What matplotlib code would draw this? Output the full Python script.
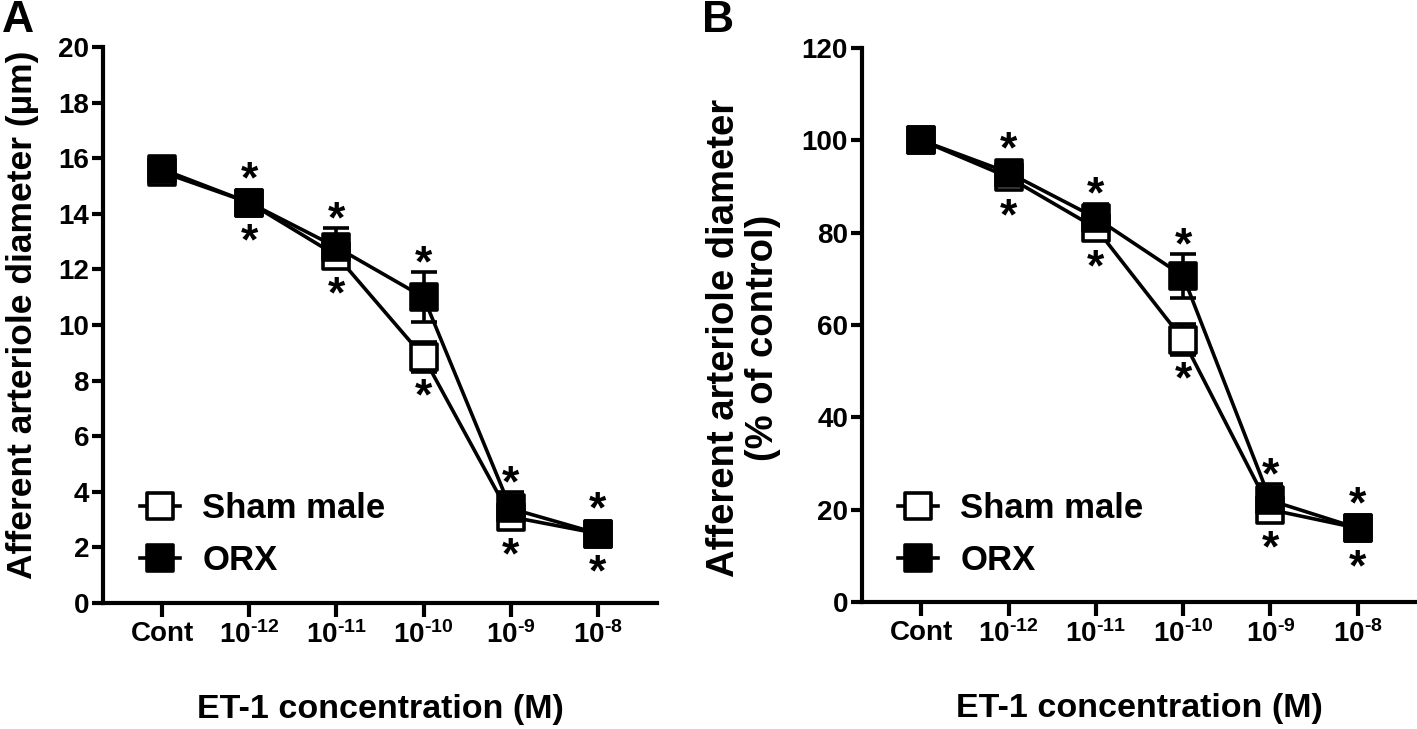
"""ET-1 dose response of afferent arteriole diameter, sham vs ORX."""

import matplotlib
matplotlib.use('Agg')
import matplotlib.pyplot as plt
from matplotlib.markers import MarkerStyle
import numpy as np

plt.rcParams['font.family'] = 'Liberation Sans'
plt.rcParams['font.weight'] = 'bold'
plt.rcParams['mathtext.fontset'] = 'custom'
plt.rcParams['mathtext.rm'] = 'Liberation Sans:bold'
plt.rcParams['mathtext.bf'] = 'Liberation Sans:bold'

# Data
tick_labels = ['Cont', r'$\mathbf{10^{‐12}}$', r'$\mathbf{10^{‐11}}$',
               r'$\mathbf{10^{‐10}}$', r'$\mathbf{10^{‐9}}$', r'$\mathbf{10^{‐8}}$']
series_names = ['Sham male', 'ORX']

sham_um = [15.5, 14.4, 12.5, 8.85, 3.1, 2.5]
sham_um_err = [0.2, 0.3, 0.3, 0.55, 0.3, 0.2]
orx_um = [15.6, 14.4, 12.8, 11.0, 3.4, 2.5]
orx_um_err = [0.2, 0.3, 0.7, 0.9, 0.6, 0.2]

sham_pct = [100, 92, 81, 56.8, 20, 16]
sham_pct_err = [0.5, 1.0, 1.6, 3.4, 1.5, 1.0]
orx_pct = [100, 93, 83.2, 70.6, 22, 16]
orx_pct_err = [0.5, 1.2, 3.1, 4.8, 3.5, 1.0]

# stars only on the ET-1 doses, not control
star_mask = [False, True, True, True, True, True]

fig = plt.figure(figsize=(14.17, 7.29), dpi=100)
ax_a = fig.add_axes([103 / 1417, 1 - 603 / 729, 554 / 1417, 556 / 729])
ax_b = fig.add_axes([862 / 1417, 1 - 602 / 729, 555 / 1417, 554 / 729])

LW = 2.6
MS = 19
SQ = MarkerStyle('s', joinstyle='round')
STAR_FS = 32
STAR_MID = 0.44  # glyph centre above baseline, in em


def draw_panel(ax, sham, sham_err, orx, orx_err, ylim, yticks):
    x = np.arange(len(tick_labels))
    ax.set_xlim(-0.68, 5.68)
    ax.set_ylim(*ylim)

    handles = []
    for y, e, face in [(sham, sham_err, 'white'), (orx, orx_err, 'black')]:
        ax.errorbar(x, y, yerr=e, fmt='none', ecolor='black', elinewidth=LW,
                    capsize=9.5, capthick=LW, zorder=2)
        line, = ax.plot(x, y, '-', color='black', lw=LW, marker=SQ, ms=MS,
                        mfc=face, mec='black', mew=LW, zorder=3)
        handles.append(line)

    # asterisks above ORX / below sham, clear of marker or error cap
    to_pt = 72 / fig.dpi
    half_marker = MS / 2 + LW / 2
    for i in range(len(x)):
        if not star_mask[i]:
            continue
        hi = max(orx[i], sham[i])
        lo = min(orx[i], sham[i])
        top = max(orx[i] + orx_err[i], sham[i] + sham_err[i])
        bot = min(orx[i] - orx_err[i], sham[i] - sham_err[i])
        top_ext = max((ax.transData.transform((0, top))[1]
                       - ax.transData.transform((0, hi))[1]) * to_pt, half_marker)
        bot_ext = max((ax.transData.transform((0, lo))[1]
                       - ax.transData.transform((0, bot))[1]) * to_pt, half_marker)
        ax.annotate('*', xy=(x[i], hi), xytext=(0, top_ext + 11 - STAR_MID * STAR_FS),
                    textcoords='offset points', ha='center', va='baseline',
                    fontsize=STAR_FS, fontweight='bold')
        ax.annotate('*', xy=(x[i], lo), xytext=(0, -bot_ext - 12.5 - STAR_MID * STAR_FS),
                    textcoords='offset points', ha='center', va='baseline',
                    fontsize=STAR_FS, fontweight='bold')

    ax.set_xticks(x)
    ax.set_xticklabels(tick_labels)
    ax.set_yticks(yticks)
    for s in ['top', 'right']:
        ax.spines[s].set_visible(False)
    for s in ['left', 'bottom']:
        ax.spines[s].set_linewidth(3)
    ax.tick_params(axis='both', width=3, labelsize=20, direction='out')
    ax.tick_params(axis='x', length=10, pad=3)
    ax.tick_params(axis='y', length=8, pad=2)
    for lab in ax.get_xticklabels() + ax.get_yticklabels():
        lab.set_fontweight('bold')

    ax.set_xlabel('ET-1 concentration (M)', fontsize=24.5, fontweight='bold', va='center')
    ax.xaxis.set_label_coords(0.5, -0.192)
    return handles


h_a = draw_panel(ax_a, sham_um, sham_um_err, orx_um, orx_um_err, (0, 20), np.arange(0, 21, 2))
h_b = draw_panel(ax_b, sham_pct, sham_pct_err, orx_pct, orx_pct_err, (0, 120), np.arange(0, 121, 20))

ax_a.set_ylabel('Afferent arteriole diameter (µm)', fontsize=25.5, fontweight='bold', va='center')
ax_a.yaxis.set_label_coords(-0.146, 0.518)
ax_b.set_ylabel('Afferent arteriole diameter\n(% of control)', fontsize=27.5, fontweight='bold',
                va='center', linespacing=1.1)
ax_b.yaxis.set_label_coords(-0.214, 0.477)

for ax, h, x0 in [(ax_a, h_a, 140), (ax_b, h_b, 898)]:
    ax.legend(h, series_names, loc='upper left', bbox_to_anchor=(x0 / 1417, 1 - 492 / 729),
              bbox_transform=fig.transFigure, frameon=False,
              handlelength=1.15, handletextpad=0.65, labelspacing=0.55,
              borderpad=0, borderaxespad=0, prop={'weight': 'bold', 'size': 25})

fig.text(18 / 1417, 1 - 21 / 729, 'A', fontsize=32, fontweight='bold', ha='center', va='center')
fig.text(718 / 1417, 1 - 21 / 729, 'B', fontsize=32, fontweight='bold', ha='center', va='center')

plt.savefig('out.png', dpi=100)
